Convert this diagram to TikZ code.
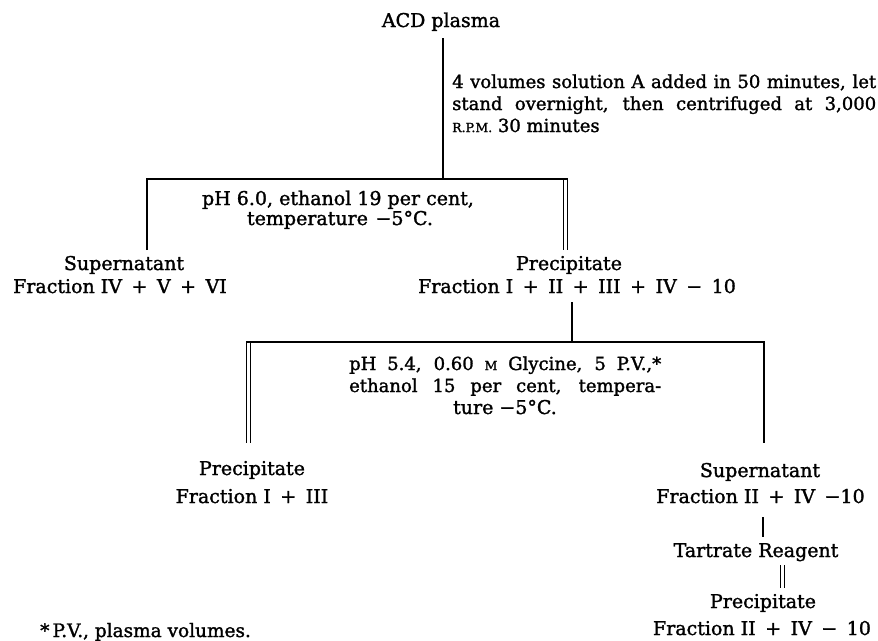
\documentclass[tikz,border=0pt]{standalone}
\usepackage{fontspec}
\setmainfont{DejaVu Serif}[FakeBold=1.5]
\newcommand{\mainsz}{\fontsize{19}{22}\selectfont}
\newcommand{\blocksz}{\fontsize{18}{22}\selectfont}
\newcommand{\smc}[1]{{\fontsize{12.5}{12.5}\selectfont #1}}
\newcommand{\pl}{\hspace{0.5em}+\hspace{0.5em}}
\newcommand{\mi}{\hspace{0.5em}−\hspace{0.5em}}
\begin{document}
\begin{tikzpicture}[x=1pt,y=-1pt,
  lbl/.style={font=\mainsz, inner sep=0pt, anchor=base},
  lblw/.style={font=\mainsz, inner sep=0pt, anchor=base west},
  blk/.style={font=\blocksz, inner sep=0pt, anchor=base west},
  ln/.style={line width=1.2pt},
  dbl/.style={double, double distance=3.4pt, line width=1.0pt}]
\useasboundingbox[fill=white] (0,0) rectangle (878,640);
% top
\node[lbl] (acd) at (441,27) {ACD plasma};
\coordinate (t1) at (443,38);
\coordinate (j1) at (443,179);
\draw[ln] (t1) -- (j1);
\node[blk] (c1a) at (452,88) {\makebox[424pt][s]{4 volumes solution A added in 50 minutes, let}};
\node[blk] (c1b) at (452,110) {\makebox[424pt][s]{stand overnight, then centrifuged at 3,000}};
\node[blk] (c1c) at (452,132) {\smc{R.P.M.} 30 minutes};
% first split
\coordinate (l1) at (147,179);
\coordinate (l1b) at (147,250);
\coordinate (r1) at (567.5,179);
\coordinate (d1t) at (565.5,179.5);
\coordinate (d1b) at (565.5,250);
\draw[ln] (l1b) -- (l1) -- (r1);
\draw[dbl] (d1t) -- (d1b);
\node[lbl] (ph1a) at (338,205) {pH 6.0, ethanol 19 per cent,};
\node[lbl] (ph1b) at (340,225) {temperature\hspace{0.4em}−5°C.};
\node[lbl] (sup1) at (124,270) {Supernatant};
\node[lbl] (fr1) at (120,293) {Fraction IV\pl V\pl VI};
\node[lbl] (pre1) at (569,270) {Precipitate};
\node[lbl] (fr2) at (577,293) {Fraction I\pl II\pl III\pl IV\mi 10};
% second split
\coordinate (t2) at (572,302);
\coordinate (j2) at (572,342);
\draw[ln] (t2) -- (j2);
\coordinate (l2) at (246,342);
\coordinate (r2) at (764,342);
\coordinate (r2b) at (764,443);
\coordinate (d2t) at (248.5,342.5);
\coordinate (d2b) at (248.5,443);
\draw[ln] (l2) -- (r2) -- (r2b);
\draw[dbl] (d2t) -- (d2b);
\node[blk] (ph2a) at (349,370) {\makebox[312pt][s]{pH 5.4, 0.60 \smc{M} Glycine, 5 P.V.,*}};
\node[blk] (ph2b) at (349,392) {\makebox[312pt][s]{ethanol 15 per cent, tempera-}};
\node[lbl] (ph2c) at (505,414) {ture −5°C.};
\node[lbl] (pre2) at (252,475) {Precipitate};
\node[lbl] (fr3) at (252,503) {Fraction I\pl III};
\node[lbl] (sup2) at (760,477) {Supernatant};
\node[lbl] (fr4) at (760.5,503) {Fraction II\pl IV\hspace{0.5em}−10};
% tartrate
\coordinate (t3) at (763,517);
\coordinate (b3) at (763,537);
\draw[ln] (t3) -- (b3);
\node[lbl] (tart) at (756,557) {Tartrate Reagent};
\coordinate (d3t) at (782.5,565);
\coordinate (d3b) at (782.5,588);
\draw[dbl] (d3t) -- (d3b);
\node[lbl] (pre3) at (763,608) {Precipitate};
\node[lbl] (fr5) at (762,635) {Fraction II\pl IV\mi 10};
% footnote
\node[font=\fontsize{18.5}{22}\selectfont, inner sep=0pt, anchor=base west] (foot) at (40,637) {*\,P.V., plasma volumes.};
\end{tikzpicture}
\end{document}
